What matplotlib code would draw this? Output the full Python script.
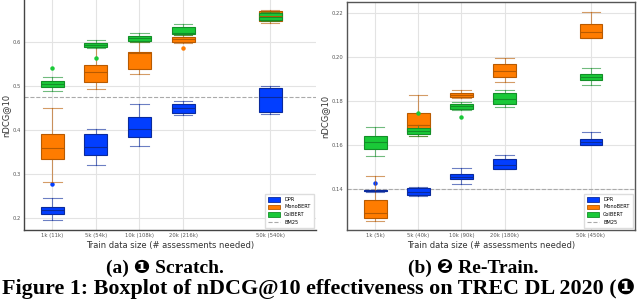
"""Boxplots of nDCG@10 for scratch and re-train settings."""

import matplotlib.pyplot as plt
import numpy as np
from matplotlib.lines import Line2D
from matplotlib.patches import Patch

models = ["DPR", "MonoBERT", "ColBERT"]
colors = {"DPR": "#023eff", "MonoBERT": "#ff7c00", "ColBERT": "#1ac938"}
edges = {"DPR": "#0a2a9c", "MonoBERT": "#b85a00", "ColBERT": "#138f28"}

positions = [0, 1, 2, 3, 5]

# (a) scratch
scratch_labels = ["1k (11k)", "5k (54k)", "10k (108k)", "20k (216k)", "50k (540k)"]
scratch_bm25 = 0.475
scratch_stats = {
    # whislo, q1, med, q3, whishi, fliers
    "DPR": [
        (0.1955, 0.2084, 0.2175, 0.2243, 0.246, [0.277]),
        (0.320, 0.343, 0.362, 0.391, 0.4015, []),
        (0.364, 0.384, 0.402, 0.4295, 0.460, []),
        (0.433, 0.438, 0.449, 0.458, 0.4666, []),
        (0.4357, 0.4416, 0.4757, 0.495, 0.499, []),
    ],
    "MonoBERT": [
        (0.281, 0.334, 0.360, 0.391, 0.451, []),
        (0.4925, 0.509, 0.532, 0.547, 0.588, []),
        (0.527, 0.539, 0.574, 0.577, 0.601, []),
        (0.598, 0.601, 0.606, 0.611, 0.615, [0.586]),
        (0.6425, 0.648, 0.660, 0.671, 0.673, []),
    ],
    "ColBERT": [
        (0.489, 0.497, 0.5045, 0.512, 0.521, [0.541]),
        (0.586, 0.589, 0.594, 0.5977, 0.605, [0.564]),
        (0.601, 0.603, 0.608, 0.613, 0.620, []),
        (0.617, 0.618, 0.620, 0.633, 0.640, []),
        (0.647, 0.650, 0.657, 0.665, 0.668, []),
    ],
}

# (b) re-train
retrain_labels = ["1k (5k)", "5k (40k)", "10k (90k)", "20k (180k)", "50k (450k)"]
retrain_bm25 = 0.14
retrain_stats = {
    "DPR": [
        (0.1388, 0.1390, 0.1393, 0.1396, 0.1398, [0.1426]),
        (0.1368, 0.1373, 0.1388, 0.1406, 0.1410, []),
        (0.1423, 0.1446, 0.1456, 0.1467, 0.1497, []),
        (0.1489, 0.1489, 0.1509, 0.1535, 0.1555, []),
        (0.1600, 0.1601, 0.1614, 0.1626, 0.1658, []),
    ],
    "MonoBERT": [
        (0.1256, 0.1267, 0.1290, 0.1349, 0.1460, []),
        (0.1640, 0.1660, 0.1689, 0.1744, 0.1826, []),
        (0.1815, 0.1820, 0.1827, 0.1835, 0.1850, []),
        (0.1888, 0.1910, 0.1936, 0.1968, 0.1997, []),
        (0.2085, 0.2088, 0.2112, 0.2149, 0.2203, []),
    ],
    "ColBERT": [
        (0.1550, 0.1582, 0.1612, 0.1642, 0.1683, []),
        (0.1640, 0.1649, 0.1665, 0.1679, 0.1690, [0.1744]),
        (0.1760, 0.1762, 0.1777, 0.1785, 0.1797, [0.1726]),
        (0.1774, 0.1785, 0.1810, 0.1836, 0.1850, []),
        (0.1874, 0.1895, 0.1910, 0.1923, 0.1950, []),
    ],
}


def draw_panel(ax, stats, labels, bm25, yticks, ytick_fmt):
    width = 0.53
    for m in models:
        bxp_stats = [
            dict(whislo=s[0], q1=s[1], med=s[2], q3=s[3], whishi=s[4], fliers=s[5])
            for s in stats[m]
        ]
        ax.bxp(
            bxp_stats,
            positions=positions,
            widths=width,
            capwidths=width * 0.8,
            patch_artist=True,
            manage_ticks=False,
            boxprops=dict(facecolor=colors[m], edgecolor=edges[m], linewidth=0.8),
            medianprops=dict(color=edges[m], linewidth=0.8),
            whiskerprops=dict(color=edges[m], linewidth=0.8, alpha=0.6),
            capprops=dict(color=edges[m], linewidth=0.8, alpha=0.6),
            flierprops=dict(marker="o", markerfacecolor=colors[m],
                            markeredgecolor=colors[m], markersize=2.2),
            zorder=3,
        )
    ax.axhline(bm25, color="#aaaaaa", linestyle="--", linewidth=0.8, zorder=2)
    ax.set_xticks(positions)
    ax.set_xticklabels(labels)
    ax.set_yticks(yticks)
    ax.set_yticklabels([ytick_fmt.format(t) for t in yticks])
    ax.grid(True, color="#e3e3e3", linewidth=0.8, zorder=0)
    ax.set_axisbelow(True)
    ax.tick_params(labelsize=3.8, length=0, pad=2.5, colors="#555555")
    ax.set_xlabel("Train data size (# assessments needed)", fontsize=6, labelpad=2,
                  color="#333333")
    ax.set_ylabel("nDCG@10", fontsize=6, labelpad=1.5, color="#333333")
    handles = [Patch(facecolor=colors[m], edgecolor=edges[m], linewidth=0.6) for m in models]
    handles.append(Line2D([], [], color="#aaaaaa", linestyle="--", linewidth=0.8))
    ax.legend(handles, models + ["BM25"], loc="lower right", fontsize=3.6,
              handlelength=2.5, handleheight=1.0, labelspacing=0.5, borderpad=0.6,
              framealpha=1, edgecolor="#dddddd", fancybox=False)


fig = plt.figure(figsize=(6.4, 2.99), dpi=100)

ax1 = fig.add_axes([24 / 640, 69 / 299, 292 / 640, 230 / 299])
draw_panel(ax1, scratch_stats, scratch_labels, scratch_bm25,
           [0.2, 0.3, 0.4, 0.5, 0.6], "{:.1f}")
ax1.set_xlim(-0.65, 6.05)
ax1.set_ylim(0.1727, 0.6955)
for side in ["top", "right"]:
    ax1.spines[side].set_visible(False)
for side in ["left", "bottom"]:
    ax1.spines[side].set_color("#444444")
    ax1.spines[side].set_linewidth(1.0)

ax2 = fig.add_axes([347 / 640, 69 / 299, 288 / 640, 228 / 299])
draw_panel(ax2, retrain_stats, retrain_labels, retrain_bm25,
           [0.14, 0.16, 0.18, 0.20, 0.22], "{:.2f}")
ax2.set_xlim(-0.65, 6.02)
ax2.set_ylim(0.1214, 0.225)
for side in ax2.spines:
    ax2.spines[side].set_color("#555555")
    ax2.spines[side].set_linewidth(1.0)

serif = ["Liberation Serif", "DejaVu Sans"]
fig.text(165 / 640, 1 - 268 / 299, "(a) \u2776 Scratch.", ha="center", va="center",
         fontsize=14, fontweight="bold", family=serif)
fig.text(473 / 640, 1 - 268 / 299, "(b) \u2777 Re-Train.", ha="center", va="center",
         fontsize=14, fontweight="bold", family=serif)
fig.text(2 / 640, 1 - 289 / 299,
         "Figure 1: Boxplot of nDCG@10 effectiveness on TREC DL 2020 (\u2776",
         ha="left", va="center", fontsize=15.8, fontweight="bold", family=serif)

fig.savefig("out.png", dpi=100)
